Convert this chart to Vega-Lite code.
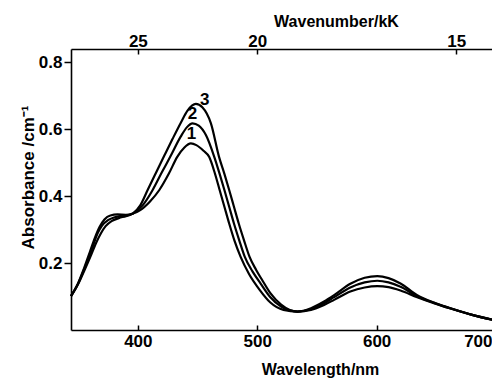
{
  "$schema": "https://vega.github.io/schema/vega-lite/v6.json",
  "autosize": "none",
  "padding": {"left": 71, "top": 49, "right": 0, "bottom": 52},
  "width": 425,
  "height": 281,
  "background": "white",
  "config": {
    "view": {"stroke": null},
    "font": "Liberation Sans",
    "axis": {
      "grid": false,
      "domainColor": "black",
      "domainWidth": 1.6,
      "tickColor": "black",
      "tickWidth": 1.5,
      "labelColor": "black",
      "titleColor": "black",
      "labelFont": "Liberation Sans",
      "titleFont": "Liberation Sans",
      "labelFontSize": 17,
      "labelFontWeight": "bold",
      "titleFontSize": 16,
      "titleFontWeight": "bold"
    }
  },
  "datasets": {
    "curves": [
      {"curve": "1", "wl": 344, "a": 0.101}, {"curve": "1", "wl": 350, "a": 0.140}, {"curve": "1", "wl": 355, "a": 0.185}, {"curve": "1", "wl": 360, "a": 0.235}, {"curve": "1", "wl": 364, "a": 0.275}, {"curve": "1", "wl": 368, "a": 0.308}, {"curve": "1", "wl": 372, "a": 0.330}, {"curve": "1", "wl": 377, "a": 0.342}, {"curve": "1", "wl": 383, "a": 0.345}, {"curve": "1", "wl": 390, "a": 0.344}, {"curve": "1", "wl": 396, "a": 0.348}, {"curve": "1", "wl": 402, "a": 0.358}, {"curve": "1", "wl": 410, "a": 0.383}, {"curve": "1", "wl": 418, "a": 0.418}, {"curve": "1", "wl": 426, "a": 0.467}, {"curve": "1", "wl": 433, "a": 0.517}, {"curve": "1", "wl": 439, "a": 0.545}, {"curve": "1", "wl": 444.4, "a": 0.557}, {"curve": "1", "wl": 449, "a": 0.552}, {"curve": "1", "wl": 455, "a": 0.535}, {"curve": "1", "wl": 459.7, "a": 0.517}, {"curve": "1", "wl": 464.5, "a": 0.468}, {"curve": "1", "wl": 468.5, "a": 0.418}, {"curve": "1", "wl": 472.5, "a": 0.368}, {"curve": "1", "wl": 476.5, "a": 0.318}, {"curve": "1", "wl": 481, "a": 0.266}, {"curve": "1", "wl": 486, "a": 0.219}, {"curve": "1", "wl": 493, "a": 0.168}, {"curve": "1", "wl": 502, "a": 0.120}, {"curve": "1", "wl": 511, "a": 0.082}, {"curve": "1", "wl": 522, "a": 0.060}, {"curve": "1", "wl": 533.7, "a": 0.055}, {"curve": "1", "wl": 545, "a": 0.060}, {"curve": "1", "wl": 556, "a": 0.075}, {"curve": "1", "wl": 564.4, "a": 0.090}, {"curve": "1", "wl": 578, "a": 0.115}, {"curve": "1", "wl": 590, "a": 0.127}, {"curve": "1", "wl": 600.6, "a": 0.131}, {"curve": "1", "wl": 610, "a": 0.128}, {"curve": "1", "wl": 620, "a": 0.118}, {"curve": "1", "wl": 634, "a": 0.098}, {"curve": "1", "wl": 648, "a": 0.080}, {"curve": "1", "wl": 662, "a": 0.064}, {"curve": "1", "wl": 680, "a": 0.045}, {"curve": "1", "wl": 700, "a": 0.028},
      {"curve": "2", "wl": 344, "a": 0.101}, {"curve": "2", "wl": 350, "a": 0.139}, {"curve": "2", "wl": 355, "a": 0.181}, {"curve": "2", "wl": 360, "a": 0.226}, {"curve": "2", "wl": 366.3, "a": 0.289}, {"curve": "2", "wl": 370, "a": 0.312}, {"curve": "2", "wl": 375, "a": 0.328}, {"curve": "2", "wl": 380, "a": 0.336}, {"curve": "2", "wl": 385, "a": 0.340}, {"curve": "2", "wl": 390, "a": 0.342}, {"curve": "2", "wl": 396, "a": 0.348}, {"curve": "2", "wl": 404, "a": 0.372}, {"curve": "2", "wl": 412.4, "a": 0.418}, {"curve": "2", "wl": 420, "a": 0.470}, {"curve": "2", "wl": 427.1, "a": 0.517}, {"curve": "2", "wl": 436, "a": 0.578}, {"curve": "2", "wl": 441, "a": 0.605}, {"curve": "2", "wl": 445.8, "a": 0.617}, {"curve": "2", "wl": 451, "a": 0.610}, {"curve": "2", "wl": 457, "a": 0.582}, {"curve": "2", "wl": 464, "a": 0.517}, {"curve": "2", "wl": 468.5, "a": 0.466}, {"curve": "2", "wl": 472.5, "a": 0.418}, {"curve": "2", "wl": 476.5, "a": 0.368}, {"curve": "2", "wl": 480.5, "a": 0.318}, {"curve": "2", "wl": 485, "a": 0.267}, {"curve": "2", "wl": 489.5, "a": 0.219}, {"curve": "2", "wl": 496, "a": 0.175}, {"curve": "2", "wl": 503, "a": 0.138}, {"curve": "2", "wl": 511, "a": 0.098}, {"curve": "2", "wl": 520, "a": 0.070}, {"curve": "2", "wl": 533.7, "a": 0.055}, {"curve": "2", "wl": 545, "a": 0.062}, {"curve": "2", "wl": 556, "a": 0.080}, {"curve": "2", "wl": 564.4, "a": 0.098}, {"curve": "2", "wl": 578, "a": 0.127}, {"curve": "2", "wl": 590, "a": 0.142}, {"curve": "2", "wl": 600.6, "a": 0.147}, {"curve": "2", "wl": 610, "a": 0.142}, {"curve": "2", "wl": 620, "a": 0.129}, {"curve": "2", "wl": 634, "a": 0.101}, {"curve": "2", "wl": 648, "a": 0.081}, {"curve": "2", "wl": 662, "a": 0.064}, {"curve": "2", "wl": 680, "a": 0.045}, {"curve": "2", "wl": 700, "a": 0.028},
      {"curve": "3", "wl": 344, "a": 0.101}, {"curve": "3", "wl": 350, "a": 0.137}, {"curve": "3", "wl": 355, "a": 0.176}, {"curve": "3", "wl": 360, "a": 0.217}, {"curve": "3", "wl": 365, "a": 0.260}, {"curve": "3", "wl": 369.1, "a": 0.289}, {"curve": "3", "wl": 373, "a": 0.310}, {"curve": "3", "wl": 378, "a": 0.325}, {"curve": "3", "wl": 384, "a": 0.334}, {"curve": "3", "wl": 390, "a": 0.340}, {"curve": "3", "wl": 396, "a": 0.348}, {"curve": "3", "wl": 402, "a": 0.372}, {"curve": "3", "wl": 408.2, "a": 0.418}, {"curve": "3", "wl": 415, "a": 0.468}, {"curve": "3", "wl": 422.1, "a": 0.520}, {"curve": "3", "wl": 429, "a": 0.570}, {"curve": "3", "wl": 436, "a": 0.619}, {"curve": "3", "wl": 441.6, "a": 0.655}, {"curve": "3", "wl": 448.6, "a": 0.675}, {"curve": "3", "wl": 454, "a": 0.665}, {"curve": "3", "wl": 461.2, "a": 0.617}, {"curve": "3", "wl": 468, "a": 0.517}, {"curve": "3", "wl": 472.5, "a": 0.466}, {"curve": "3", "wl": 476.5, "a": 0.418}, {"curve": "3", "wl": 480.5, "a": 0.368}, {"curve": "3", "wl": 484.5, "a": 0.318}, {"curve": "3", "wl": 489, "a": 0.267}, {"curve": "3", "wl": 493.5, "a": 0.219}, {"curve": "3", "wl": 499, "a": 0.180}, {"curve": "3", "wl": 504, "a": 0.150}, {"curve": "3", "wl": 511, "a": 0.110}, {"curve": "3", "wl": 520, "a": 0.076}, {"curve": "3", "wl": 533.7, "a": 0.055}, {"curve": "3", "wl": 545, "a": 0.065}, {"curve": "3", "wl": 556, "a": 0.085}, {"curve": "3", "wl": 564.4, "a": 0.104}, {"curve": "3", "wl": 578, "a": 0.138}, {"curve": "3", "wl": 590, "a": 0.156}, {"curve": "3", "wl": 600.6, "a": 0.161}, {"curve": "3", "wl": 610, "a": 0.155}, {"curve": "3", "wl": 620, "a": 0.139}, {"curve": "3", "wl": 634, "a": 0.104}, {"curve": "3", "wl": 648, "a": 0.082}, {"curve": "3", "wl": 662, "a": 0.065}, {"curve": "3", "wl": 680, "a": 0.045}, {"curve": "3", "wl": 700, "a": 0.028}
    ],
    "labels": [
      {"label": "1", "wl": 445, "a": 0.585},
      {"label": "2", "wl": 445.8, "a": 0.645},
      {"label": "3", "wl": 456.1, "a": 0.688}
    ]
  },
  "layer": [
    {
      "data": {"name": "curves"},
      "mark": {"type": "line", "color": "black", "strokeWidth": 2.2, "interpolate": "monotone"},
      "encoding": {
        "x": {
          "field": "wl", "type": "quantitative",
          "scale": {"domain": [344, 700], "nice": false, "zero": false},
          "axis": {
            "orient": "bottom", "values": [400, 500, 600, 700], "tickSize": -5,
            "labelPadding": 8, "labelFlush": 5, "labelFlushOffset": -4, "format": "d",
            "title": "Wavelength/nm", "titleX": 249, "titleY": 39, "titleBaseline": "middle"
          }
        },
        "y": {
          "field": "a", "type": "quantitative",
          "scale": {"domain": [0, 0.839], "nice": false, "zero": false},
          "axis": {
            "values": [0.2, 0.4, 0.6, 0.8], "format": ".1f", "tickSize": 7, "labelPadding": 2,
            "title": "Absorbance /cm⁻¹", "titleFontSize": 17, "titleX": -43, "titleY": 128, "titleBaseline": "middle", "titleAngle": -90
          }
        },
        "detail": {"field": "curve", "type": "nominal"}
      }
    },
    {
      "data": {"name": "labels"},
      "mark": {"type": "text", "color": "black", "font": "Liberation Sans", "fontSize": 17, "fontWeight": "bold", "baseline": "middle", "align": "center"},
      "encoding": {
        "x": {
          "field": "wl", "type": "quantitative",
          "axis": {
            "orient": "top", "values": [400, 500, 666.6667], "tickSize": -5, "labelPadding": 4,
            "labelExpr": "round(10000 / datum.value)",
            "title": "Wavenumber/kK", "titleX": 265, "titleY": -28, "titleBaseline": "middle"
          }
        },
        "y": {
          "field": "a", "type": "quantitative",
          "axis": {
            "values": [0.2, 0.4, 0.6, 0.8], "format": ".1f", "tickSize": 7, "labelPadding": 2,
            "title": "Absorbance /cm⁻¹", "titleFontSize": 17, "titleX": -43, "titleY": 128, "titleBaseline": "middle", "titleAngle": -90
          }
        },
        "text": {"field": "label", "type": "nominal"}
      }
    }
  ],
  "resolve": {"axis": {"x": "independent"}}
}
